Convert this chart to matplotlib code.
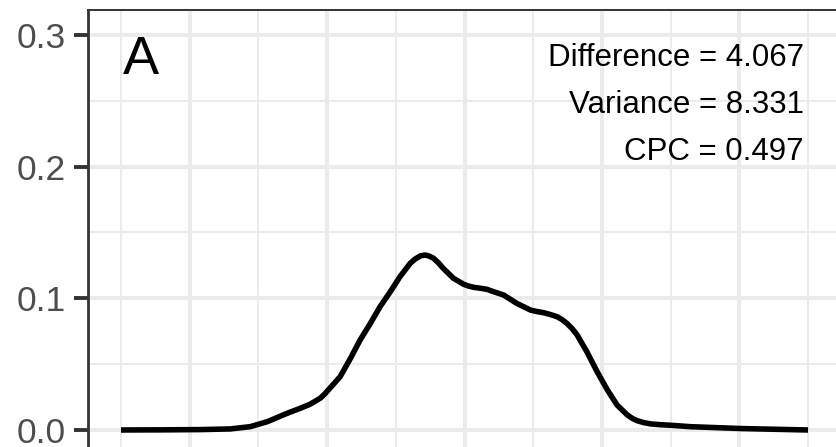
import matplotlib
matplotlib.use("Agg")
import matplotlib.pyplot as plt
from matplotlib.ticker import MultipleLocator

plt.rcParams['font.family'] = ['Liberation Sans', 'DejaVu Sans']

# density curve
x_vals = [0.00, 0.57, 1.15, 1.59, 1.88, 2.13, 2.36, 2.45, 2.53, 2.61, 2.75,
          2.90, 2.97, 3.04, 3.11, 3.19, 3.34, 3.48, 3.63, 3.77, 3.92, 4.06,
          4.21, 4.28, 4.36, 4.43, 4.49, 4.55, 4.62, 4.69, 4.84, 4.99, 5.06,
          5.13, 5.24, 5.33, 5.38, 5.57, 5.76, 5.96, 6.05, 6.15, 6.25, 6.35,
          6.42, 6.49, 6.57, 6.64, 6.78, 6.93, 7.08, 7.22, 7.37, 7.44, 7.51,
          7.61, 7.71, 7.85, 8.00, 8.29, 9.02, 10.00]
y_vals = [0.0000, 0.0001, 0.0003, 0.0008, 0.0025, 0.0063, 0.0114, 0.0133,
          0.0149, 0.0165, 0.0195, 0.0241, 0.0276, 0.0317, 0.0358, 0.0405,
          0.0544, 0.0683, 0.0810, 0.0936, 0.1050, 0.1164, 0.1266, 0.1298,
          0.1323, 0.1329, 0.1320, 0.1304, 0.1270, 0.1228, 0.1152, 0.1106,
          0.1093, 0.1084, 0.1076, 0.1068, 0.1058, 0.1025, 0.0962, 0.0911,
          0.0900, 0.0891, 0.0877, 0.0860, 0.0838, 0.0810, 0.0768, 0.0721,
          0.0595, 0.0443, 0.0304, 0.0190, 0.0114, 0.0089, 0.0071, 0.0056,
          0.0046, 0.0040, 0.0036, 0.0025, 0.0011, 0.0000]

stats_lines = ["Difference = 4.067", "Variance = 8.331", "CPC = 0.497"]
panel_tag = "A"
y_ticks = [0.0, 0.1, 0.2, 0.3]

W, H = 836, 447
fig = plt.figure(figsize=(W / 100, H / 100), dpi=100)
# panel runs off the right and bottom edges of the picture
ax = fig.add_axes([88 / W, (H - 455) / H, 753 / W, 445 / H])

ax.plot(x_vals, y_vals, color="black", lw=4.0, solid_capstyle="butt",
        solid_joinstyle="round", zorder=3)

ax.set_xlim(-0.48, 10.48)
ax.set_ylim(-0.019, 0.319)

ax.xaxis.set_major_locator(MultipleLocator(2, offset=1))
ax.xaxis.set_minor_locator(MultipleLocator(2))
ax.set_yticks(y_ticks)
ax.set_yticklabels(["%.1f" % v for v in y_ticks])
ax.yaxis.set_minor_locator(MultipleLocator(0.05))

ax.grid(which="major", color="#EBEBEB", lw=2.9)
ax.grid(which="minor", color="#EBEBEB", lw=1.4)
ax.set_axisbelow(True)

ax.tick_params(axis="y", which="major", length=10, width=2.8, color="#333333",
               labelsize=25.5, labelcolor="#4D4D4D", pad=6)
ax.tick_params(axis="y", which="minor", length=0)
ax.tick_params(axis="x", which="both", length=0, labelbottom=False)

for side in ["right", "bottom"]:
    ax.spines[side].set_visible(False)
ax.spines["left"].set_color("#333333")
ax.spines["left"].set_linewidth(2.0)
ax.spines["top"].set_color("#333333")
ax.spines["top"].set_linewidth(1.4)

ax.text((123 - 88) / 753, 1 - 25 / 445, panel_tag, transform=ax.transAxes,
        fontsize=39, va="top", ha="left", color="black")

for i, s in enumerate(stats_lines):
    ax.text(716 / 753, 1 - (56 + 47 * i) / 445, s, transform=ax.transAxes,
            fontsize=22.5, ha="right", va="baseline", color="black")

fig.savefig("out.png", dpi=100)
